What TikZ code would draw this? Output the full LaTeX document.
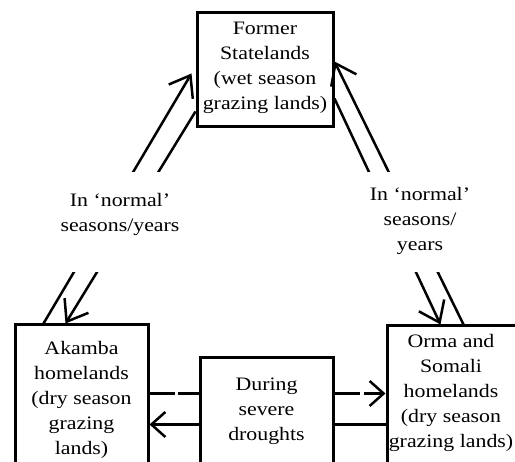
\documentclass[tikz,border=0pt]{standalone}
\usepackage{fontspec}
\setmainfont{Liberation Serif}[FakeStretch=1.15]
\usetikzlibrary{arrows.meta}
\newcommand{\mlines}[1]{\begin{tabular}[t]{@{}c@{}}#1\end{tabular}}
\begin{document}
\begin{tikzpicture}[x=1pt,y=-1pt,
  box/.style={draw, line width=3pt, fill=white, inner sep=0pt, anchor=base, font=\fontsize{19}{25}\selectfont},
  lbl/.style={fill=white, inner xsep=3pt, inner ysep=0pt, anchor=base, font=\fontsize{19}{25}\selectfont},
  conn/.style={line width=2.5pt},
  bigtip/.style={-{Straight Barb[length=19pt,width=28pt]}},
  smalltip/.style={-{Straight Barb[length=14pt,width=25pt]}}]
\useasboundingbox (0,0) rectangle (515,462);
\clip (0,0) rectangle (515,462);
\node[box, minimum width=136pt, text height=22pt, text depth=92pt] (former) at (265,35)
  {\mlines{Former\\Statelands\\(wet season\\grazing lands)}};
\node[box, minimum width=133pt, text height=30pt, text depth=130pt] (akamba) at (81.5,355)
  {\mlines{Akamba\\homelands\\(dry season\\grazing\\lands)}};
\node[box, minimum width=134pt, text height=22pt, text depth=140pt] (orma) at (454,348)
  {\begin{tabular}[t]{@{}c@{\hspace{6pt}}}Orma and\\Somali\\homelands\\(dry season\\grazing lands)\end{tabular}};
\draw[conn, smalltip, dash pattern=on 25pt off 3pt on 182pt off 4pt on 100pt]
  ([shift={(0,70)}]akamba.north east) -- ([shift={(0,69)}]orma.north west);
\draw[conn, smalltip] ([shift={(0,100)}]orma.north west) -- ([shift={(0,101)}]akamba.north east);
\node[box, minimum width=133pt, text height=33pt, text depth=100pt] (drought) at (266.5,391)
  {\mlines{During\\severe\\droughts}};
\draw[conn, bigtip] ([shift={(30,0)}]akamba.north west) -- ([shift={(-4,62)}]former.north west);
\draw[conn, bigtip] ([shift={(0,100)}]former.north west) -- ([shift={(52,0)}]akamba.north west);
\draw[conn, bigtip] ([shift={(78,0)}]orma.north west) -- ([shift={(0,50)}]former.north east);
\draw[conn, bigtip] ([shift={(0,87)}]former.north east) -- ([shift={(55,0)}]orma.north west);
\node[lbl, text height=35pt, text depth=65pt] (leftlbl) at (120,207)
  {\mlines{In `normal'\\seasons/years}};
\node[lbl, text height=29pt, text depth=71pt] (rightlbl) at (420,201)
  {\mlines{In `normal'\\seasons/\\years}};
\end{tikzpicture}
\end{document}
